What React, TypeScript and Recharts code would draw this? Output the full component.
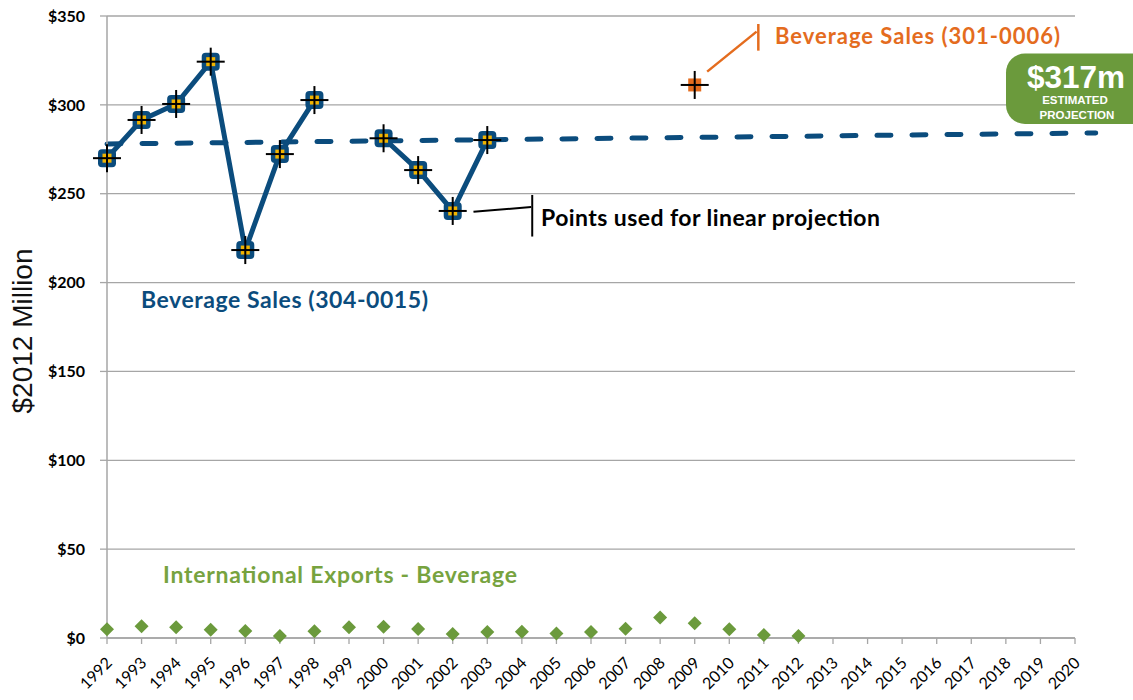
import React from "react";
import { LineChart, Line, XAxis, YAxis, CartesianGrid, ReferenceLine } from "recharts";

// x categories (years) and y ticks
const years = [
  1992, 1993, 1994, 1995, 1996, 1997, 1998, 1999, 2000, 2001, 2002, 2003, 2004, 2005, 2006,
  2007, 2008, 2009, 2010, 2011, 2012, 2013, 2014, 2015, 2016, 2017, 2018, 2019, 2020,
];
const yTicks = [0, 50, 100, 150, 200, 250, 300, 350];

// Beverage Sales (304-0015), 1992-2003 ($M), 1999 missing
const sales304 = [270, 291.5, 300.5, 324.3, 218.3, 272.3, 302.7, null, 281.2, 263.3, 240.3, 280.2];
// Beverage Sales (301-0006), single point
const sales301Year = 2009;
const sales301Value = 311.2;
// International Exports - Beverage, 1992-2012
const exportsBev = [4.9, 6.6, 6.0, 4.7, 3.9, 1.1, 3.8, 6.0, 6.4, 5.1, 2.3, 3.4, 3.5, 2.6, 3.4, 5.2, 11.6, 8.3, 4.9, 1.7, 1.1];
// linear projection endpoints
const trendStart = { x: 1992, y: 278.0 };
const trendEnd = { x: 2020.6, y: 284.2 };

const data = years.map((year, i) => ({
  year,
  sales304: i < sales304.length ? sales304[i] : null,
  sales301: year === sales301Year ? sales301Value : null,
  exports: i < exportsBev.length ? exportsBev[i] : null,
}));

const BLUE = "#0b4c7d";
const ORANGE = "#e46c1e";
const GREEN = "#6b9a3c";
const GRID = "#a6a6a6";
const FONT = "Lato, 'Open Sans', sans-serif";
const ARIAL = "'Liberation Sans', Arial, sans-serif";

const cross = (cx: number, cy: number) => (
  <>
    <line x1={cx - 14} x2={cx + 14} y1={cy} y2={cy} stroke="#000" strokeWidth={2} />
    <line x1={cx} x2={cx} y1={cy - 14} y2={cy + 14} stroke="#000" strokeWidth={2} />
  </>
);

const blueDot = (props: any) => {
  const { cx, cy, index, value } = props;
  if (cx == null || cy == null || value == null) return <g key={`b${index}`} />;
  return (
    <g key={`b${index}`}>
      <rect x={cx - 9} y={cy - 9} width={18} height={18} rx={4} fill={BLUE} />
      <rect x={cx - 4.5} y={cy - 4.5} width={9} height={9} fill="#f2b400" />
      {cross(cx, cy)}
    </g>
  );
};

const orangeDot = (props: any) => {
  const { cx, cy, index, value } = props;
  if (cx == null || cy == null || value == null) return <g key={`o${index}`} />;
  return (
    <g key={`o${index}`}>
      <rect x={cx - 6.5} y={cy - 6.5} width={13} height={13} fill={ORANGE} />
      {cross(cx, cy)}
    </g>
  );
};

const diamondDot = (props: any) => {
  const { cx, cy, index, value } = props;
  if (cx == null || cy == null || value == null) return <g key={`d${index}`} />;
  return <path key={`d${index}`} d={`M${cx},${cy - 7}L${cx + 7},${cy}L${cx},${cy + 7}L${cx - 7},${cy}Z`} fill={GREEN} />;
};

const XTick = (props: any) => {
  const { x, y, payload } = props;
  return (
    <g transform={`translate(${x + 6},${y + 18})`}>
      <text textAnchor="end" transform="rotate(-45)" fontFamily={FONT} fontSize={16} fill="#000">
        {payload.value}
      </text>
    </g>
  );
};

export default function App() {
  return (
    <div style={{ position: "relative", width: 1133, height: 700, background: "#fff" }}>
      <style>{`body{margin:0}`}</style>
      <LineChart width={1133} height={700} data={data} margin={{ top: 16, right: 58, left: 0, bottom: 0 }}>
        <CartesianGrid vertical={false} stroke={GRID} strokeWidth={1.3} />
        <XAxis
          dataKey="year"
          type="number"
          domain={[1992, 2020]}
          ticks={years}
          interval={0}
          height={62}
          tickSize={6}
          axisLine={{ stroke: GRID, strokeWidth: 1.5 }}
          tickLine={{ stroke: GRID, strokeWidth: 1.3 }}
          tick={<XTick />}
        />
        <YAxis
          domain={[0, 350]}
          ticks={yTicks}
          width={107}
          tickSize={7}
          tickMargin={15}
          axisLine={{ stroke: GRID, strokeWidth: 1.5 }}
          tickLine={{ stroke: GRID, strokeWidth: 1.3 }}
          tickFormatter={(v: number) => `$${v}`}
          tick={{ fill: "#000", fontSize: 16, fontWeight: 700, fontFamily: FONT }}
        />
        <ReferenceLine
          segment={[trendStart, trendEnd]}
          ifOverflow="visible"
          stroke={BLUE}
          strokeWidth={5}
          strokeDasharray="14 21"
          strokeLinecap="round"
        />
        <ReferenceLine segment={[{ x: 2002.6, y: 239.9 }, { x: 2004.27, y: 242.5 }]} ifOverflow="visible" stroke="#000" strokeWidth={2} />
        <ReferenceLine segment={[{ x: 2004.3, y: 249.3 }, { x: 2004.3, y: 225.9 }]} ifOverflow="visible" stroke="#000" strokeWidth={2} />
        <ReferenceLine segment={[{ x: 2009.36, y: 318.7 }, { x: 2010.79, y: 341.2 }]} ifOverflow="visible" stroke={ORANGE} strokeWidth={2.5} />
        <ReferenceLine segment={[{ x: 2010.84, y: 345.5 }, { x: 2010.84, y: 330.5 }]} ifOverflow="visible" stroke={ORANGE} strokeWidth={2.5} />
        <Line dataKey="sales304" stroke={BLUE} strokeWidth={5} dot={blueDot} activeDot={false} isAnimationActive={false} />
        <Line dataKey="sales301" stroke="none" dot={orangeDot} activeDot={false} isAnimationActive={false} />
        <Line dataKey="exports" stroke="none" dot={diamondDot} activeDot={false} isAnimationActive={false} />
      </LineChart>
      <svg width={1133} height={700} style={{ position: "absolute", left: 0, top: 0, pointerEvents: "none" }}>
        <text x={32} y={331} textAnchor="middle" transform="rotate(-90 32 331)" fontFamily={ARIAL} fontSize={28} fill="#111">
          $2012 Million
        </text>
        <text x={141} y={308} fontFamily={FONT} fontWeight={700} fontSize={23} textLength={287} lengthAdjust="spacing" fill={BLUE}>Beverage Sales (304-0015)</text>
        <text x={541} y={226} fontFamily={FONT} fontWeight={700} fontSize={23} textLength={339} lengthAdjust="spacing" fill="#000">Points used for linear projection</text>
        <text x={775} y={43.5} fontFamily={FONT} fontWeight={700} fontSize={22} textLength={285} lengthAdjust="spacing" fill={ORANGE}>Beverage Sales (301-0006)</text>
        <text x={163} y={582.7} fontFamily={FONT} fontWeight={700} fontSize={23} textLength={354} lengthAdjust="spacing" fill="#77a33f">International Exports - Beverage</text>
        <rect x={1006} y={53.5} width={150} height={70.5} rx={19} fill={GREEN} />
        <text x={1076} y={87.5} textAnchor="middle" fontFamily={ARIAL} fontWeight={700} fontSize={31.5} fill="#fff">$317m</text>
        <text x={1075} y={104.3} textAnchor="middle" fontFamily={ARIAL} fontWeight={700} fontSize={11.5} fill="#fff">ESTIMATED</text>
        <text x={1077} y={119} textAnchor="middle" fontFamily={ARIAL} fontWeight={700} fontSize={11.5} fill="#fff">PROJECTION</text>
      </svg>
    </div>
  );
}
